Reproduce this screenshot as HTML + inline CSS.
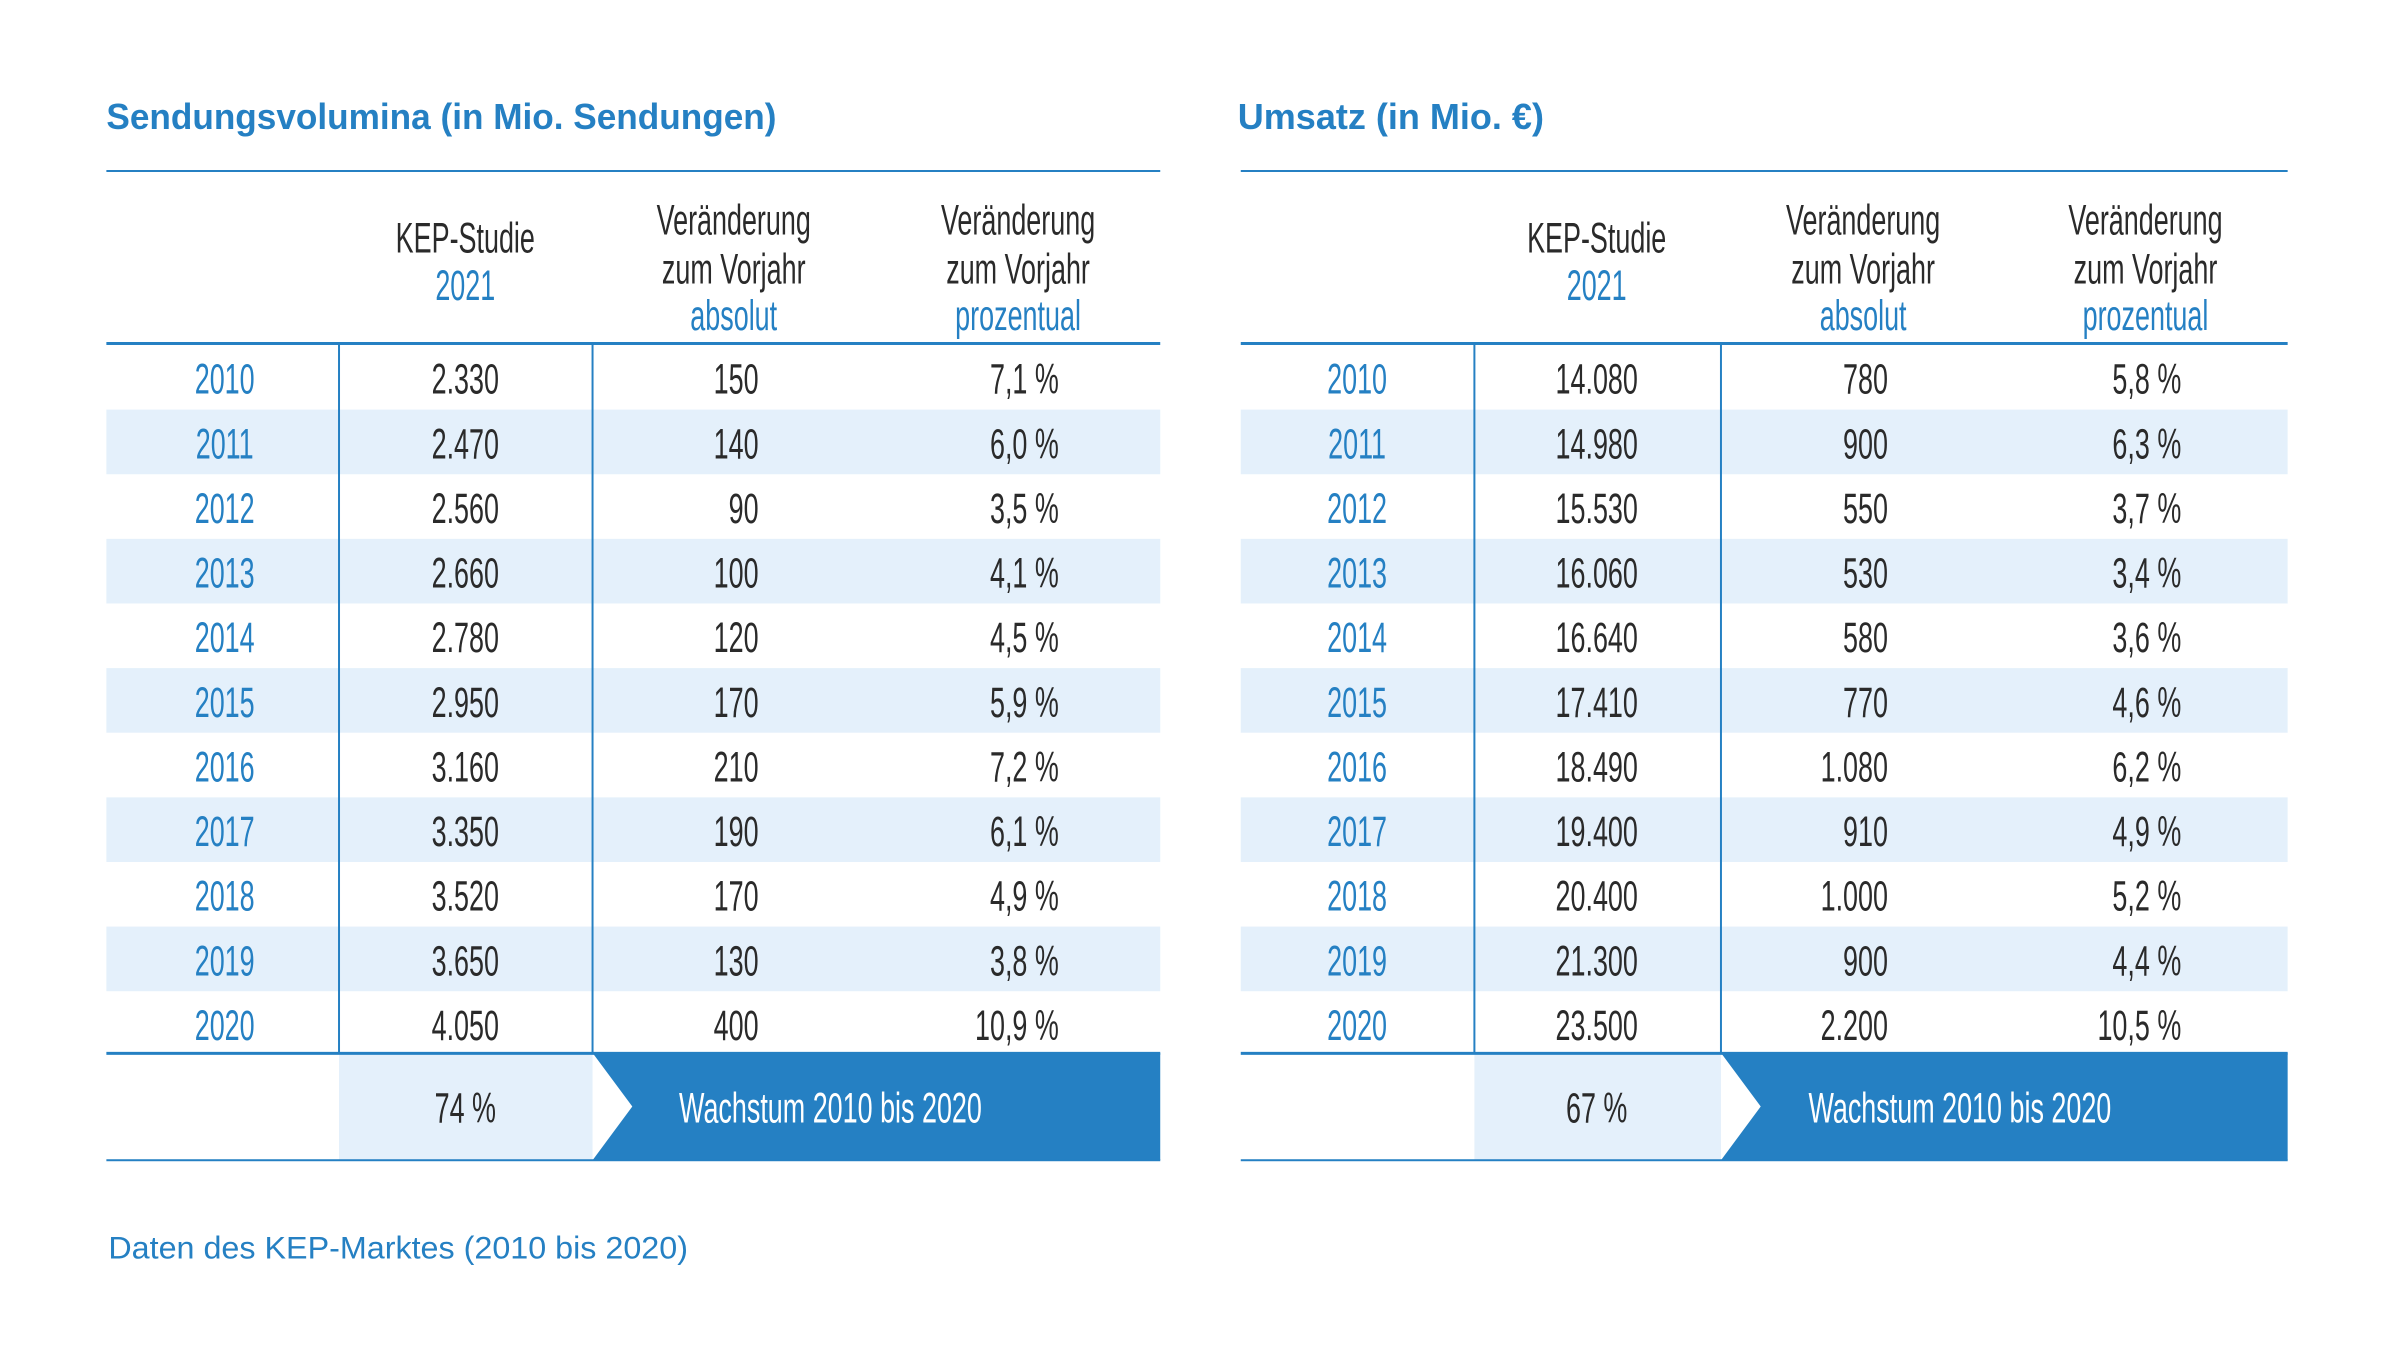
<!DOCTYPE html>
<html><head><meta charset="utf-8"><style>
html,body{margin:0;padding:0;background:#fff;}
svg{display:block;font-family:"Liberation Sans",sans-serif;}
</style></head><body>
<svg width="2394" height="1371" viewBox="0 0 2394 1371" xmlns="http://www.w3.org/2000/svg">
<g id="s" transform="scale(0.9942)">
<text x="107" y="130" font-size="36" font-weight="bold" fill="#2580c3" textLength="674" lengthAdjust="spacingAndGlyphs">Sendungsvolumina (in Mio. Sendungen)</text>
<text x="1245" y="130" font-size="36" font-weight="bold" fill="#2580c3" textLength="308" lengthAdjust="spacingAndGlyphs">Umsatz (in Mio. €)</text>
<text x="109" y="1266" font-size="32" fill="#2580c3" textLength="583" lengthAdjust="spacingAndGlyphs">Daten des KEP-Marktes (2010 bis 2020)</text>
</g>
</svg>
<script>
var s=document.getElementById('s'),NS='http://www.w3.org/2000/svg',B='#2580c3',L='#e4f0fb',D='#2a2a2a';
function el(t,a,txt){var e=document.createElementNS(NS,t);for(var k in a)e.setAttribute(k,a[k]);if(txt!=null)e.textContent=txt;s.appendChild(e);return e;}
function tx(x,y,str,col,anchor){el('text',{transform:'translate('+x+' '+y+') scale(0.63 1)','font-size':43,fill:col,'text-anchor':anchor||'middle'},str);}
var years=['2010','2011','2012','2013','2014','2015','2016','2017','2018','2019','2020'];
var T=[
 {x0:107,x1:1167,v1:341,v2:596,cy:226,ck:468,ca:763,cp:1065,ha:738,hp:1024,tip:636,wx:683,tot:'74 %',
  k:['2.330','2.470','2.560','2.660','2.780','2.950','3.160','3.350','3.520','3.650','4.050'],
  a:['150','140','90','100','120','170','210','190','170','130','400'],
  p:['7,1 %','6,0 %','3,5 %','4,1 %','4,5 %','5,9 %','7,2 %','6,1 %','4,9 %','3,8 %','10,9 %']},
 {x0:1248,x1:2301,v1:1483,v2:1731,cy:1365,ck:1606,ca:1899,cp:2194,ha:1874,hp:2158,tip:1771,wx:1819,tot:'67 %',
  k:['14.080','14.980','15.530','16.060','16.640','17.410','18.490','19.400','20.400','21.300','23.500'],
  a:['780','900','550','530','580','770','1.080','910','1.000','900','2.200'],
  p:['5,8 %','6,3 %','3,7 %','3,4 %','3,6 %','4,6 %','6,2 %','4,9 %','5,2 %','4,4 %','10,5 %']}];
T.forEach(function(t){
 for(var i=0;i<11;i++){var y=347+65*i;
  if(i%2==1)el('rect',{x:t.x0,y:y,width:t.x1-t.x0,height:65,fill:L});
  var b=y+33+16;
  tx(t.cy,b,years[i],B);tx(t.ck,b,t.k[i],D);tx(t.ca,b,t.a[i],D,'end');tx(t.cp,b,t.p[i],D,'end');}
 el('rect',{x:t.v1,y:1059,width:t.v2-t.v1,height:108,fill:L});
 el('polygon',{points:t.v2+',1059 '+t.x1+',1059 '+t.x1+',1167 '+t.v2+',1167 '+t.tip+',1113',fill:B});
 tx(t.ck,1129,t.tot,D);tx(t.wx,1129,'Wachstum 2010 bis 2020','#fff','start');
 el('rect',{x:t.x0,y:171,width:t.x1-t.x0,height:2,fill:B});
 el('rect',{x:t.x0,y:344,width:t.x1-t.x0,height:3,fill:B});
 el('rect',{x:t.x0,y:1058,width:t.x1-t.x0,height:3,fill:B});
 el('rect',{x:t.x0,y:1166,width:t.x1-t.x0,height:2,fill:B});
 el('rect',{x:t.v1-1,y:345,width:2,height:714,fill:B});
 el('rect',{x:t.v2-1,y:345,width:2,height:714,fill:B});
 tx(t.ck,254,'KEP-Studie',D);tx(t.ck,302,'2021',B);
 tx(t.ha,236,'Veränderung',D);tx(t.ha,285,'zum Vorjahr',D);tx(t.ha,332,'absolut',B);
 tx(t.hp,236,'Veränderung',D);tx(t.hp,285,'zum Vorjahr',D);tx(t.hp,332,'prozentual',B);
});
</script>
</body></html>
